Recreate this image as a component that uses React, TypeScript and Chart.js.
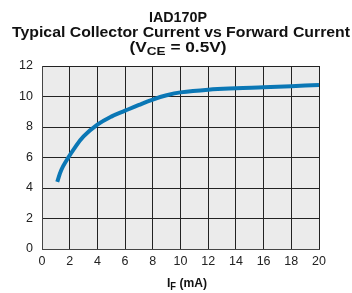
import React, { useEffect, useRef } from "react";
import { Chart, registerables } from "chart.js";

Chart.register(...registerables);

const titleLines = ["IAD170P", "Typical Collector Current vs Forward Current"];
const conditionMain = "V";
const conditionSub = "CE";
const conditionRest = " = 0.5V)";
const xTitleMain = "I";
const xTitleSub = "F";
const xTitleRest = " (mA)";

const forwardCurrent = [1.1, 1.4, 1.8, 2.3, 3, 4, 5, 6, 7, 8, 9, 10, 12, 14, 16, 18, 20];
const collectorCurrent = [4.4, 5.2, 5.85, 6.55, 7.38, 8.15, 8.68, 9.07, 9.45, 9.8, 10.08, 10.27, 10.45, 10.54, 10.6, 10.67, 10.76];

const FONT = "'Liberation Sans', Arial, Helvetica, sans-serif";

type Piece = { t: string; sub?: boolean };

const drawFitted = (ctx: CanvasRenderingContext2D, cx: number, y: number, targetW: number, parts: Piece[], size: number, subSize: number) => {
  let total = 0;
  parts.forEach((p) => {
    ctx.font = `bold ${p.sub ? subSize : size}px ${FONT}`;
    total += ctx.measureText(p.t).width;
  });
  const sx = targetW / total;
  ctx.save();
  ctx.translate(cx - targetW / 2, y);
  ctx.scale(sx, 1);
  let x = 0;
  parts.forEach((p) => {
    ctx.font = `bold ${p.sub ? subSize : size}px ${FONT}`;
    ctx.fillText(p.t, x, p.sub ? 3 : 0);
    x += ctx.measureText(p.t).width;
  });
  ctx.restore();
};

const textPlugin = {
  id: "customText",
  beforeDraw(chart: any) {
    const { ctx, chartArea } = chart;
    ctx.save();
    ctx.fillStyle = "#ebebeb";
    ctx.fillRect(chartArea.left, chartArea.top, chartArea.right - chartArea.left, chartArea.bottom - chartArea.top);
    ctx.restore();
  },
  afterDraw(chart: any) {
    const { ctx } = chart;
    ctx.save();
    ctx.fillStyle = "#111";
    ctx.textBaseline = "alphabetic";
    ctx.textAlign = "left";
    drawFitted(ctx, 178, 21.7, 58, [{ t: titleLines[0] }], 14, 11);
    drawFitted(ctx, 181, 37, 338, [{ t: titleLines[1] }], 14, 11);
    drawFitted(ctx, 178, 52, 97, [{ t: "(" + conditionMain }, { t: conditionSub, sub: true }, { t: conditionRest }], 14, 11);
    drawFitted(ctx, 187, 287, 40, [{ t: xTitleMain }, { t: xTitleSub, sub: true }, { t: xTitleRest }], 13, 10);
    ctx.restore();
  },
};

export default function App() {
  const ref = useRef<HTMLCanvasElement>(null);
  useEffect(() => {
    document.body.style.margin = "0";
    const chart = new Chart(ref.current!, {
      type: "line",
      data: {
        datasets: [
          {
            data: forwardCurrent.map((x, i) => ({ x, y: collectorCurrent[i] })),
            borderColor: "#0a77b5",
            borderWidth: 4,
            pointRadius: 0,
            tension: 0.4,
            fill: false,
          },
        ],
      },
      options: {
        responsive: false,
        animation: false,
        layout: { padding: { top: 66, right: 33, left: 0, bottom: 0 } },
        plugins: { legend: { display: false }, tooltip: { enabled: false }, title: { display: false } },
        scales: {
          x: {
            type: "linear",
            min: 0,
            max: 20,
            ticks: { stepSize: 2, padding: 5, color: "#222", font: { family: FONT, size: 12.5 }, maxRotation: 0 },
            grid: { color: "#222", lineWidth: 1, drawTicks: false },
            border: { color: "#444", width: 1 },
            afterFit: (s: any) => { s.height = 44; },
          },
          y: {
            min: 0,
            max: 12,
            ticks: { stepSize: 2, padding: 9, color: "#222", font: { family: FONT, size: 12.5 } },
            grid: { color: "#222", lineWidth: 1, drawTicks: false },
            border: { color: "#444", width: 1 },
            afterFit: (s: any) => { s.width = 42; },
          },
        },
      },
      plugins: [textPlugin],
    } as any);
    return () => chart.destroy();
  }, []);
  return <canvas ref={ref} width={352} height={293} style={{ display: "block" }} />;
}
